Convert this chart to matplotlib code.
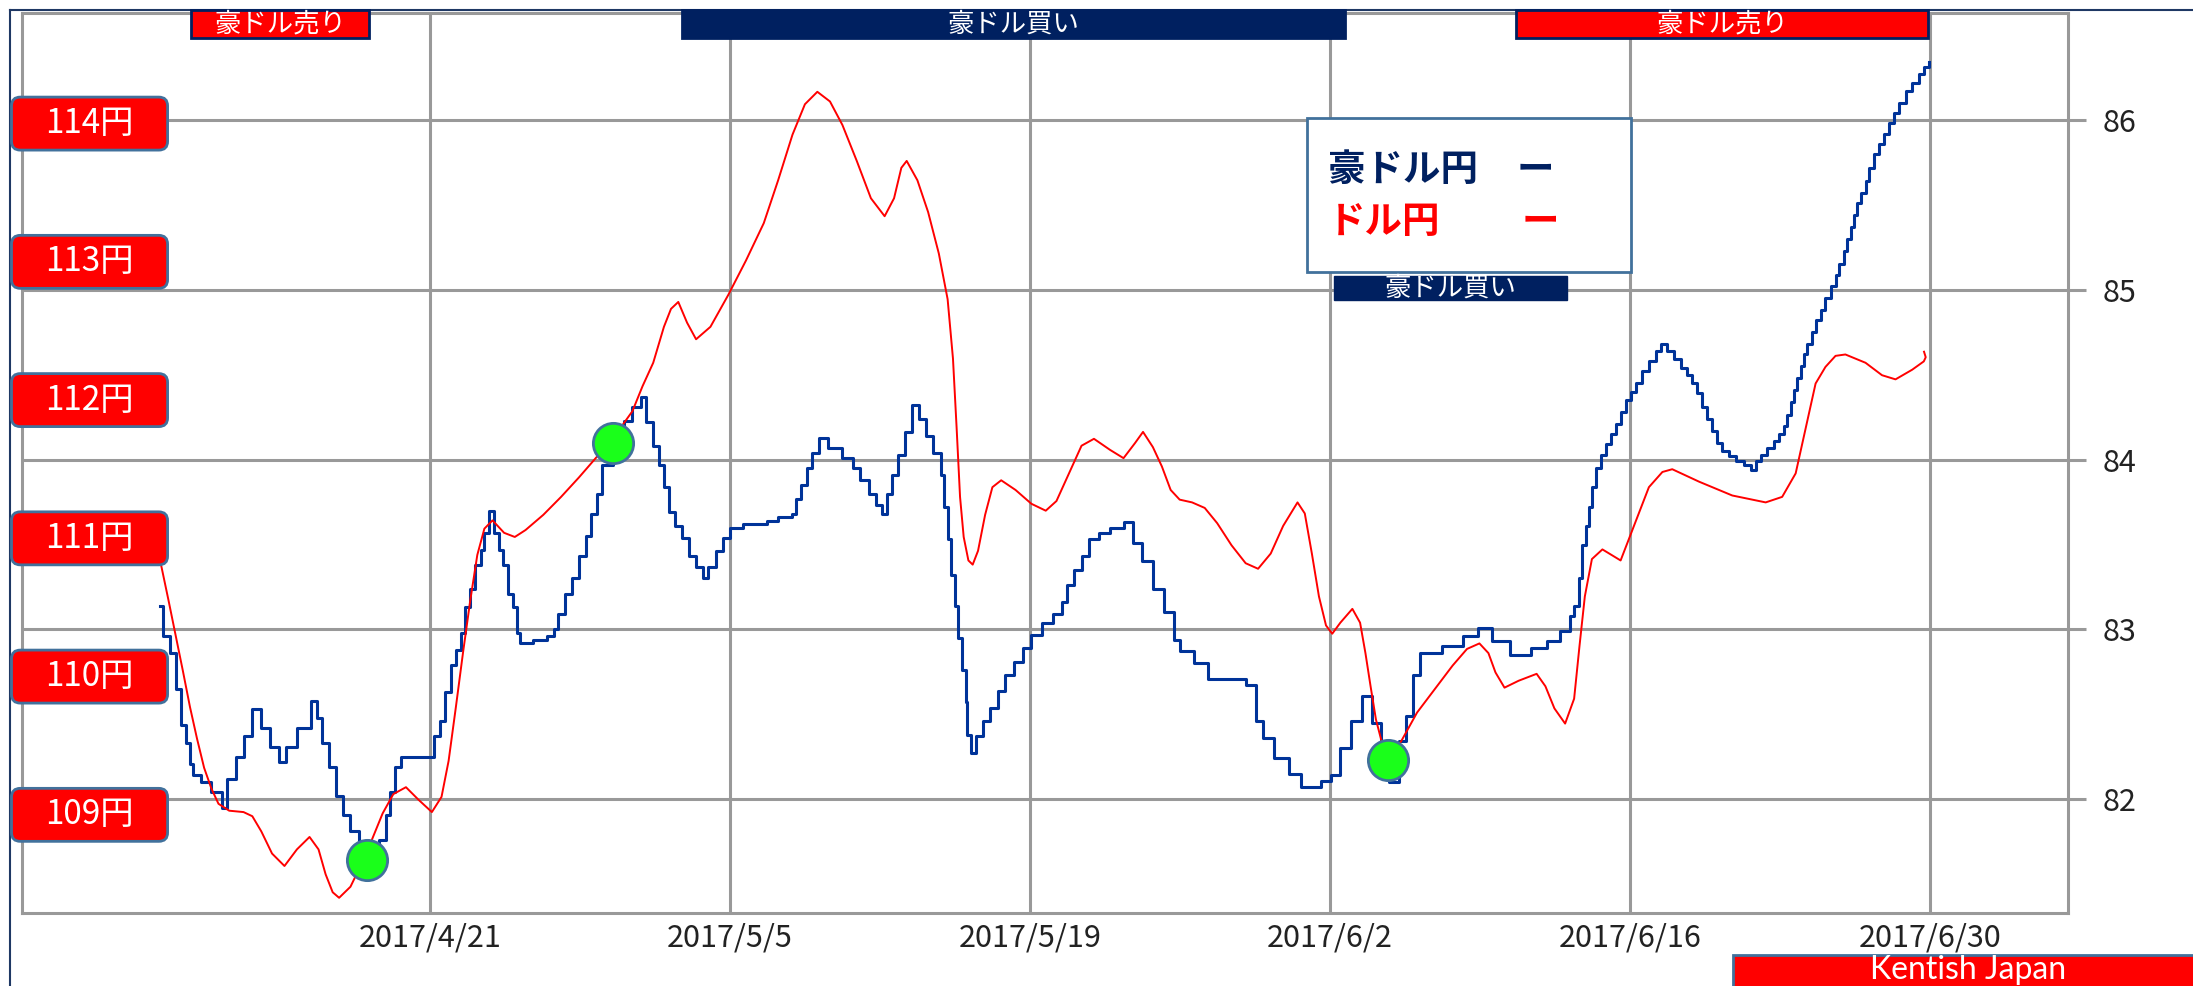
import matplotlib
matplotlib.use("Agg")
import matplotlib.pyplot as plt
from matplotlib.patches import FancyBboxPatch, Rectangle
from matplotlib.lines import Line2D

plt.rcParams['font.family'] = ['Noto Sans CJK JP', 'DejaVu Sans']

# canvas size in pixels
W, H = 2193, 986

# x values are days counted from 2017/4/21
date_ticks = [0, 14, 28, 42, 56, 70]
date_labels = ["2017/4/21", "2017/5/5", "2017/5/19", "2017/6/2", "2017/6/16", "2017/6/30"]
aud_ticks = [82, 83, 84, 85, 86]
usd_ticks = [109, 110, 111, 112, 113, 114]

# AUD/JPY (right axis)
aud_days = [-12.63, -12.46, -12.13, -11.88, -11.63, -11.38, -11.21, -11.05, -10.71, -10.21,
            -9.71, -9.46, -9.05, -8.71, -8.30, -7.88, -7.46, -7.05, -6.71, -6.22,
            -5.58, -5.30, -5.05, -4.72, -4.38, -4.05, -3.72, -3.30, -2.90, -2.38,
            -2.05, -1.88, -1.62, -1.38, 0.08, 0.20, 0.45, 0.70, 0.95, 1.20,
            1.45, 1.62, 1.87, 2.11, 2.36, 2.53, 2.75, 2.97, 3.19, 3.41,
            3.61, 3.86, 4.03, 4.20, 4.78, 5.44, 5.78, 5.95, 6.28, 6.61,
            6.94, 7.28, 7.52, 7.77, 8.02, 8.53, 9.03, 9.44, 9.83, 10.07,
            10.41, 10.66, 10.91, 11.16, 11.41, 11.74, 12.08, 12.41, 12.71, 12.99,
            13.32, 13.66, 13.99, 14.58, 15.07, 15.74, 16.24, 16.91, 17.07, 17.32,
            17.57, 17.82, 18.15, 18.57, 19.24, 19.74, 20.07, 20.49, 20.82, 21.07,
            21.32, 21.57, 21.82, 22.15, 22.49, 22.82, 23.15, 23.48, 23.82, 23.98,
            24.15, 24.32, 24.49, 24.65, 24.82, 24.99, 25.07, 25.24, 25.48, 25.82,
            26.15, 26.48, 26.82, 27.23, 27.65, 28.06, 28.57, 29.07, 29.49, 29.73,
            30.07, 30.40, 30.73, 31.23, 31.73, 32.40, 32.81, 33.23, 33.73, 34.23,
            34.73, 34.98, 35.64, 36.31, 37.90, 38.06, 38.56, 38.89, 39.39, 40.06,
            40.64, 41.56, 42.06, 42.48, 42.98, 43.48, 43.97, 44.39, 44.76, 45.22,
            45.56, 45.89, 46.22, 47.22, 48.22, 48.92, 49.56, 50.39, 51.39, 52.14,
            52.72, 53.22, 53.39, 53.62, 53.78, 53.93, 54.09, 54.24, 54.40, 54.63,
            54.86, 55.10, 55.33, 55.56, 55.80, 56.03, 56.26, 56.57, 56.88, 57.20,
            57.46, 57.74, 58.05, 58.36, 58.68, 58.91, 59.14, 59.37, 59.61, 59.84,
            60.07, 60.31, 60.62, 60.93, 61.32, 61.63, 61.86, 62.10, 62.40, 62.71,
            62.95, 63.18, 63.34, 63.49, 63.65, 63.80, 63.96, 64.11, 64.27, 64.50,
            64.66, 64.89, 65.12, 65.36, 65.59, 65.75, 65.98, 66.13, 66.29, 66.45,
            66.60, 66.76, 66.99, 67.15, 67.38, 67.61, 67.85, 68.08, 68.31, 68.55,
            68.86, 69.17, 69.48, 69.71, 69.95]
aud_vals = [83.14, 82.96, 82.86, 82.65, 82.44, 82.33, 82.21, 82.14, 82.10, 82.04,
            81.95, 82.12, 82.25, 82.37, 82.53, 82.42, 82.31, 82.22, 82.31, 82.42,
            82.58, 82.48, 82.33, 82.19, 82.02, 81.91, 81.81, 81.72, 81.70, 81.76,
            81.91, 82.04, 82.19, 82.25, 82.25, 82.37, 82.46, 82.63, 82.79, 82.88,
            82.98, 83.13, 83.24, 83.38, 83.47, 83.57, 83.70, 83.57, 83.47, 83.38,
            83.21, 83.13, 82.98, 82.92, 82.94, 82.96, 83.00, 83.09, 83.21, 83.30,
            83.43, 83.55, 83.68, 83.80, 83.97, 84.11, 84.23, 84.31, 84.37, 84.22,
            84.08, 83.97, 83.84, 83.69, 83.61, 83.54, 83.43, 83.37, 83.30, 83.37,
            83.46, 83.54, 83.60, 83.62, 83.62, 83.64, 83.66, 83.68, 83.77, 83.85,
            83.95, 84.04, 84.13, 84.07, 84.01, 83.95, 83.88, 83.80, 83.73, 83.68,
            83.80, 83.91, 84.03, 84.16, 84.32, 84.24, 84.14, 84.04, 83.91, 83.72,
            83.53, 83.32, 83.14, 82.95, 82.76, 82.57, 82.38, 82.27, 82.37, 82.46,
            82.54, 82.64, 82.73, 82.81, 82.89, 82.97, 83.04, 83.09, 83.16, 83.26,
            83.35, 83.43, 83.53, 83.57, 83.60, 83.63, 83.51, 83.40, 83.24, 83.10,
            82.94, 82.87, 82.80, 82.71, 82.71, 82.67, 82.46, 82.36, 82.24, 82.15,
            82.07, 82.11, 82.14, 82.30, 82.46, 82.61, 82.45, 82.34, 82.10, 82.34,
            82.49, 82.73, 82.86, 82.90, 82.96, 83.01, 82.93, 82.85, 82.89, 82.93,
            82.99, 83.08, 83.14, 83.30, 83.50, 83.61, 83.72, 83.84, 83.95, 84.03,
            84.09, 84.15, 84.21, 84.28, 84.35, 84.40, 84.45, 84.52, 84.58, 84.64,
            84.68, 84.64, 84.59, 84.54, 84.50, 84.45, 84.39, 84.31, 84.24, 84.17,
            84.10, 84.05, 84.02, 83.99, 83.97, 83.94, 83.99, 84.03, 84.07, 84.11,
            84.15, 84.20, 84.26, 84.34, 84.41, 84.48, 84.55, 84.62, 84.68, 84.75,
            84.82, 84.88, 84.95, 85.02, 85.09, 85.15, 85.23, 85.30, 85.37, 85.44,
            85.51, 85.57, 85.64, 85.72, 85.80, 85.86, 85.92, 85.98, 86.04, 86.10,
            86.17, 86.22, 86.27, 86.31, 86.34]

# USD/JPY (left scale, shown by the red boxes)
usd_days = [-12.63, -12.21, -11.88, -11.54, -11.21, -10.88, -10.55, -10.21, -9.88, -9.38,
            -8.71, -8.30, -7.88, -7.38, -6.80, -6.22, -5.63, -5.21, -4.88, -4.55,
            -4.25, -3.72, -3.22, -2.72, -2.22, -1.72, -1.13, -0.55, 0.08, 0.53,
            0.86, 1.20, 1.53, 1.87, 2.20, 2.53, 2.91, 3.45, 3.95, 4.45,
            5.28, 6.11, 6.94, 7.78, 8.61, 9.44, 9.91, 10.41, 10.91, 11.24,
            11.58, 11.99, 12.41, 13.08, 13.91, 14.74, 15.57, 16.24, 16.91, 17.49,
            18.07, 18.66, 19.24, 19.91, 20.57, 21.21, 21.65, 21.99, 22.24, 22.74,
            23.24, 23.74, 24.15, 24.40, 24.57, 24.73, 24.90, 25.12, 25.32, 25.57,
            25.90, 26.24, 26.65, 27.32, 28.06, 28.73, 29.23, 29.90, 30.40, 30.98,
            31.73, 32.36, 32.90, 33.27, 33.73, 34.15, 34.56, 34.98, 35.56, 36.15,
            36.73, 37.40, 38.06, 38.64, 39.23, 39.81, 40.48, 40.82, 41.15, 41.48,
            41.81, 42.10, 42.48, 43.04, 43.40, 43.65, 43.89, 44.14, 44.39, 44.80,
            45.31, 46.06, 46.89, 47.72, 48.39, 48.97, 49.39, 49.72, 50.14, 50.80,
            51.64, 52.05, 52.47, 52.97, 53.39, 53.64, 53.89, 54.22, 54.71, 55.56,
            56.26, 56.88, 57.51, 57.97, 59.22, 60.77, 62.33, 63.10, 63.73, 64.19,
            64.66, 65.12, 65.59, 66.05, 66.99, 67.76, 68.39, 69.17, 69.71, 69.80,
            69.72]
usd_vals = [110.86, 110.55, 110.30, 110.04, 109.78, 109.55, 109.34, 109.19, 109.08, 109.03,
            109.02, 108.99, 108.88, 108.72, 108.63, 108.75, 108.84, 108.75, 108.57, 108.44,
            108.40, 108.48, 108.64, 108.82, 109.01, 109.15, 109.20, 109.11, 109.02, 109.13,
            109.39, 109.78, 110.17, 110.55, 110.88, 111.07, 111.13, 111.04, 111.01, 111.06,
            111.17, 111.30, 111.44, 111.59, 111.74, 111.92, 112.10, 112.27, 112.53, 112.66,
            112.71, 112.56, 112.44, 112.53, 112.76, 113.01, 113.28, 113.59, 113.92, 114.14,
            114.23, 114.16, 113.99, 113.73, 113.46, 113.33, 113.46, 113.68, 113.73, 113.59,
            113.36, 113.06, 112.73, 112.30, 111.80, 111.30, 111.01, 110.84, 110.81, 110.91,
            111.17, 111.37, 111.42, 111.35, 111.25, 111.20, 111.27, 111.50, 111.67, 111.72,
            111.64, 111.58, 111.69, 111.77, 111.66, 111.52, 111.35, 111.28, 111.26, 111.22,
            111.11, 110.95, 110.82, 110.78, 110.89, 111.09, 111.26, 111.18, 110.89, 110.58,
            110.37, 110.31, 110.39, 110.49, 110.39, 110.17, 109.93, 109.69, 109.54, 109.45,
            109.53, 109.74, 109.91, 110.08, 110.20, 110.24, 110.17, 110.03, 109.92, 109.97,
            110.02, 109.93, 109.77, 109.66, 109.84, 110.22, 110.58, 110.85, 110.92, 110.84,
            111.12, 111.37, 111.48, 111.50, 111.41, 111.31, 111.26, 111.30, 111.47, 111.79,
            112.12, 112.24, 112.32, 112.33, 112.27, 112.18, 112.15, 112.22, 112.28, 112.31,
            112.35]

# green signal points (on the AUD/JPY scale)
signal_days = [-2.93, 8.53, 44.69]
signal_vals = [81.64, 84.10, 82.23]

GRID = '#999999'
NAVY = '#002060'
EDGE = '#41719c'


def fx(px):
    return px / W


def fy(py):
    # py counted from the top of the picture
    return 1 - py / H


def box(x0, y0, x1, y1, fc, ec, lw=2.0, rounded=False):
    if rounded:
        p = FancyBboxPatch((fx(x0), fy(y1)), fx(x1 - x0), (y1 - y0) / H,
                           boxstyle='round,pad=0,rounding_size=0.004',
                           mutation_aspect=W / H, transform=fig.transFigure,
                           fc=fc, ec=ec, lw=lw, zorder=5)
    else:
        p = Rectangle((fx(x0), fy(y1)), fx(x1 - x0), (y1 - y0) / H,
                      transform=fig.transFigure, fc=fc, ec=ec, lw=lw, zorder=5)
    fig.patches.append(p)


fig = plt.figure(figsize=(W / 100, H / 100), dpi=100)
ax = fig.add_axes([fx(22), fy(913), fx(2068 - 22), (913 - 13) / H])
ax2 = ax.twinx()

ax.set_xlim(-19.05, 76.44)
ax.set_ylim(81.33, 86.63)
ax2.set_ylim(108.29, 114.80)

# grid and frame
ax.set_axisbelow(True)
ax.grid(True, color=GRID, lw=2.2)
for s in ax.spines.values():
    s.set_color(GRID)
    s.set_linewidth(2.2)
for s in ax2.spines.values():
    s.set_visible(False)

ax.yaxis.tick_right()
ax.set_yticks(aud_ticks, [str(t) for t in aud_ticks])
ax.tick_params(axis='y', length=13, width=2.2, color=GRID, pad=12,
               labelsize=22, labelcolor='#222222')
ax.set_xticks(date_ticks, date_labels)
ax.tick_params(axis='x', length=0, pad=7, labelsize=22, labelcolor='#222222')
ax2.set_yticks([])

# lines
ax.plot(aud_days, aud_vals, color='#003399', lw=2.2, drawstyle='steps-post', zorder=3)
ax2.plot(usd_days, usd_vals, color='#ff0000', lw=1.4, zorder=3)
ax2.plot(signal_days, signal_vals, 'o', ms=29, mfc='#1aff1a', mec=EDGE, mew=2,
         transform=ax.transData, zorder=6)

# left yen boxes placed at the USD/JPY scale
for v in usd_ticks:
    yc = H - ax2.transData.transform((0, v))[1]
    box(11.5, yc - 26.5, 167.6, yc + 26.5, '#ff0000', EDGE, lw=2, rounded=True)
    fig.text(fx(89.5), fy(yc), f"{v}円", color='white', fontsize=24,
             ha='center', va='center', zorder=7)

# banners on top
box(190.6, 10, 369.1, 38.3, '#ff0000', NAVY)
fig.text(fx(280), fy(24), "豪ドル売り", color='white', fontsize=19, ha='center', va='center', zorder=7)
box(682, 10, 1345, 38.3, NAVY, NAVY)
fig.text(fx(1013.5), fy(24), "豪ドル買い", color='white', fontsize=19, ha='center', va='center', zorder=7)
box(1516.4, 10, 1927.7, 38.3, '#ff0000', NAVY)
fig.text(fx(1722), fy(24), "豪ドル売り", color='white', fontsize=19, ha='center', va='center', zorder=7)

# legend box
box(1307, 118.3, 1630.6, 271.7, 'white', EDGE, lw=2)
fig.text(fx(1328), fy(169), "豪ドル円", color=NAVY, fontsize=27, weight='bold', va='center', zorder=7)
fig.text(fx(1535), fy(169), "ー", color=NAVY, fontsize=27, weight='bold', ha='center', va='center', zorder=7)
fig.text(fx(1328), fy(221), "ドル円", color='#ff0000', fontsize=27, weight='bold', va='center', zorder=7)
fig.text(fx(1540), fy(221), "ー", color='#ff0000', fontsize=27, weight='bold', ha='center', va='center', zorder=7)

box(1334, 276, 1567, 300, NAVY, NAVY, lw=1)
fig.text(fx(1450), fy(288), "豪ドル買い", color='white', fontsize=19, ha='center', va='center', zorder=7)

# credit box bottom right
box(1733, 955, 2210, 1000, '#ff0000', EDGE, lw=2)
fig.text(fx(1968), fy(979), "Kentish Japan", color='white', fontsize=23,
         family=['Lato', 'DejaVu Sans'], ha='center', va='baseline', zorder=7)

# thin navy frame on top and left
fig.add_artist(Line2D([fx(10), 1], [fy(10), fy(10)], color='#1f3864', lw=1.5))
fig.add_artist(Line2D([fx(10), fx(10)], [0, fy(10)], color='#1f3864', lw=1.5))

fig.savefig("out.png", dpi=100)
